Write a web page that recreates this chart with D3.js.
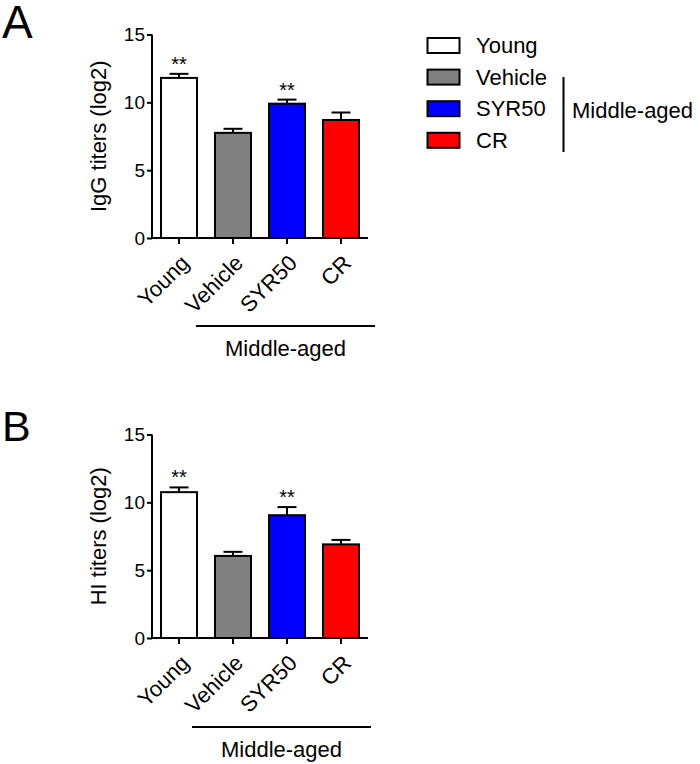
<!DOCTYPE html>
<html><head><meta charset="utf-8">
<script src="https://cdn.jsdelivr.net/npm/d3@7"></script>
<style>body{margin:0;background:#fff}svg{display:block}text{font-family:"Liberation Sans",Arial,sans-serif;fill:#000}</style>
</head><body>
<svg id="c" width="700" height="764"></svg>
<script>
const categories = ["Young","Vehicle","SYR50","CR"];
const colors = ["#ffffff","#808080","#0000ff","#ff0000"];
const iggMean = [11.8, 7.75, 9.9, 8.7];
const iggErr  = [0.3, 0.3, 0.3, 0.55];
const iggSig  = ["**","","**",""];
const hiMean  = [10.75, 6.05, 9.05, 6.9];
const hiErr   = [0.35, 0.3, 0.6, 0.33];
const hiSig   = ["**","","**",""];
const yTicks  = [0,5,10,15];

const svg = d3.select("#c");

function panel(letter, letterSize, letterY, yLabel, means, errs, sigs, top, mid) {
  const g = svg.append("g");
  const y = d3.scaleLinear().domain([0,15]).range([top+203.5, top]);
  const x = d3.scaleBand().domain(categories).range([152, 368]).paddingInner(1/3).paddingOuter(1/6);
  const y0 = y(0);
  g.append("text").attr("x",2).attr("y",letterY).attr("font-size",letterSize).text(letter);
  // bars
  g.selectAll("rect.bar").data(categories).enter().append("rect")
    .attr("x",d=>x(d)).attr("width",x.bandwidth())
    .attr("y",(d,i)=>y(means[i])).attr("height",(d,i)=>y0-y(means[i]))
    .attr("fill",(d,i)=>colors[i]).attr("stroke","#000").attr("stroke-width",2);
  // error bars
  categories.forEach((d,i)=>{
    const cx = x(d)+x.bandwidth()/2;
    const ye = y(means[i]+errs[i]);
    g.append("line").attr("x1",cx).attr("x2",cx).attr("y1",y(means[i])).attr("y2",ye).attr("stroke","#000").attr("stroke-width",2);
    g.append("line").attr("x1",cx-9.5).attr("x2",cx+9.5).attr("y1",ye).attr("y2",ye).attr("stroke","#000").attr("stroke-width",2);
    if (sigs[i]) g.append("text").attr("x",cx).attr("y",ye-3).attr("text-anchor","middle").attr("font-size",20).text(sigs[i]);
  });
  // y axis
  const ya = g.append("g").attr("transform","translate(152,0)")
    .call(d3.axisLeft(y).tickValues(yTicks).tickSize(5).tickPadding(2).tickFormat(d3.format("d")));
  ya.select(".domain").attr("stroke-width",2).attr("d",`M0,${top}V${y0}`);
  ya.selectAll(".tick line").attr("stroke-width",2);
  ya.selectAll(".tick text").attr("font-size",19).style("font-family","'Liberation Sans',Arial,sans-serif");
  // x axis
  const xa = g.append("g").attr("transform",`translate(0,${y0})`)
    .call(d3.axisBottom(x).tickSize(6).tickFormat(""));
  xa.select(".domain").attr("stroke-width",2).attr("d","M152,0H368");
  xa.selectAll(".tick line").attr("stroke-width",2);
  categories.forEach(d=>{
    const cx = x(d)+x.bandwidth()/2;
    g.append("text").attr("transform",`translate(${cx+6},${y0+21}) rotate(-45)`)
      .attr("text-anchor","end").attr("dy","0.35em").attr("font-size",22).text(d);
  });
  // y label
  g.append("text").attr("transform",`translate(106,${(top+y0)/2}) rotate(-90)`)
    .attr("text-anchor","middle").attr("font-size",22).text(yLabel);
  // middle-aged bracket
  g.append("line").attr("x1",mid[0]).attr("x2",mid[1]).attr("y1",mid[2]).attr("y2",mid[2]).attr("stroke","#000").attr("stroke-width",2);
  g.append("text").attr("x",(mid[0]+mid[1])/2).attr("y",mid[2]+30).attr("text-anchor","middle").attr("font-size",22).text("Middle-aged");
}

panel("A",46,38,"IgG titers (log2)",iggMean,iggErr,iggSig,34.5,[196,375,326]);
panel("B",43,441,"HI titers (log2)",hiMean,hiErr,hiSig,434.5,[192,371,727]);

// legend
const lg = svg.append("g");
categories.forEach((d,i)=>{
  const cy = 45.5 + i*31.6;
  lg.append("rect").attr("x",427.5).attr("y",cy-7.5).attr("width",32).attr("height",15)
    .attr("fill",colors[i]).attr("stroke","#000").attr("stroke-width",2);
  lg.append("text").attr("x",476).attr("y",cy).attr("dy","0.35em").attr("font-size",22).text(d);
});
lg.append("line").attr("x1",563.5).attr("x2",563.5).attr("y1",77).attr("y2",152).attr("stroke","#000").attr("stroke-width",2);
lg.append("text").attr("x",572).attr("y",110).attr("dy","0.35em").attr("font-size",22).text("Middle-aged");
</script>
</body></html>
